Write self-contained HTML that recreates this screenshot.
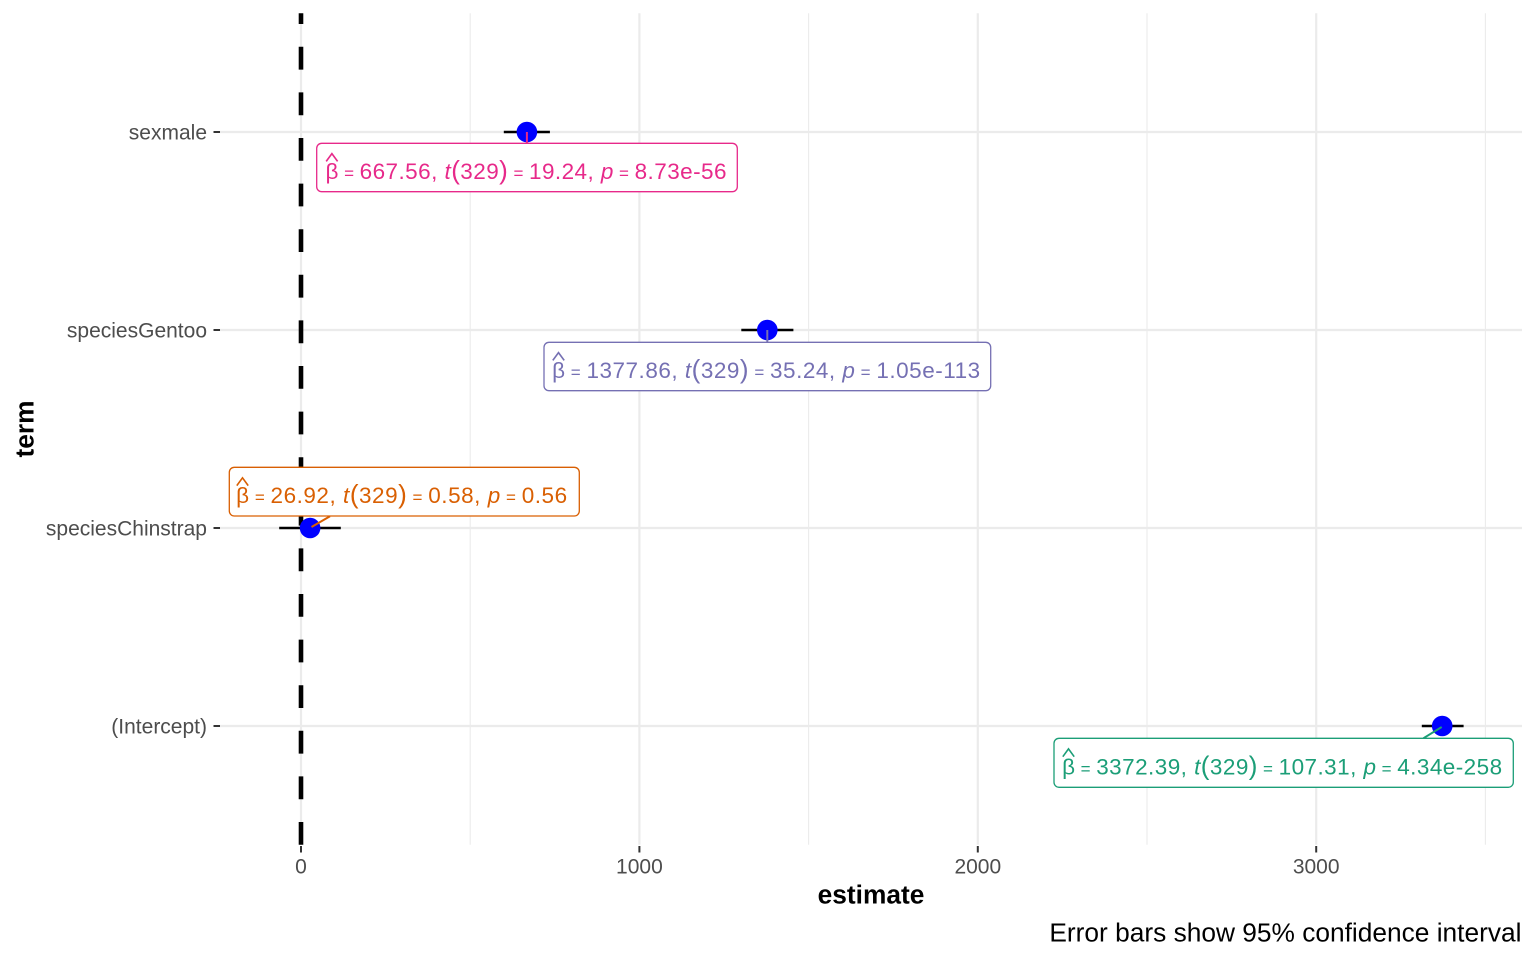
<!DOCTYPE html>
<html><head><meta charset="utf-8"><style>
html,body{margin:0;padding:0;background:#fff;}
svg{display:block;}
text{font-family:"Liberation Sans",Arial,sans-serif;}
</style></head><body>
<svg width="1536" height="960" viewBox="0 0 1536 960" xmlns="http://www.w3.org/2000/svg">
<rect width="1536" height="960" fill="#fff"/>
<!-- minor grid -->
<g stroke="#EBEBEB" stroke-width="1.1">
<line x1="470.2" y1="13.2" x2="470.2" y2="844.8"/>
<line x1="808.6" y1="13.2" x2="808.6" y2="844.8"/>
<line x1="1147" y1="13.2" x2="1147" y2="844.8"/>
<line x1="1485.4" y1="13.2" x2="1485.4" y2="844.8"/>
</g>
<!-- major grid -->
<g stroke="#EBEBEB" stroke-width="2.2">
<line x1="301" y1="13.2" x2="301" y2="844.8"/>
<line x1="639.4" y1="13.2" x2="639.4" y2="844.8"/>
<line x1="977.8" y1="13.2" x2="977.8" y2="844.8"/>
<line x1="1316.2" y1="13.2" x2="1316.2" y2="844.8"/>
<line x1="220" y1="132" x2="1522" y2="132"/>
<line x1="220" y1="330" x2="1522" y2="330"/>
<line x1="220" y1="528" x2="1522" y2="528"/>
<line x1="220" y1="726" x2="1522" y2="726"/>
</g>
<!-- dashed vline -->
<line x1="301" y1="844.8" x2="301" y2="13.2" stroke="#000" stroke-width="4.6" stroke-dasharray="22.8 22.8"/>
<!-- error bars -->
<g stroke="#000" stroke-width="2.6">
<line x1="503.8" y1="132" x2="549.9" y2="132"/>
<line x1="741.3" y1="330" x2="793.4" y2="330"/>
<line x1="279.2" y1="528" x2="340.8" y2="528"/>
<line x1="1421.8" y1="726" x2="1463.6" y2="726"/>
</g>
<!-- points -->
<g fill="#0000FF">
<circle cx="526.9" cy="132" r="10.3"/>
<circle cx="767.3" cy="330" r="10.3"/>
<circle cx="310.1" cy="528" r="10.3"/>
<circle cx="1442.2" cy="726" r="10.3"/>
</g>
<!-- segments -->
<line x1="526.9" y1="132" x2="526.9" y2="143.3" stroke="#E7298A" stroke-width="2"/>
<line x1="767.3" y1="330" x2="767.3" y2="342.3" stroke="#7570B3" stroke-width="2"/>
<line x1="311.5" y1="527" x2="330" y2="516.3" stroke="#D95F02" stroke-width="2"/>
<line x1="1441.7" y1="727" x2="1423.3" y2="738.3" stroke="#1B9E77" stroke-width="2"/>

<!-- label boxes -->
<rect x="316.7" y="143.3" width="420.6" height="48.4" rx="5" fill="#fff" stroke="#E7298A" stroke-width="1.3"/>
<rect x="544" y="342.3" width="446.7" height="48.4" rx="5" fill="#fff" stroke="#7570B3" stroke-width="1.3"/>
<rect x="229.3" y="467.3" width="350" height="48.7" rx="5" fill="#fff" stroke="#D95F02" stroke-width="1.3"/>
<rect x="1054" y="738.3" width="459.3" height="49" rx="5" fill="#fff" stroke="#1B9E77" stroke-width="1.3"/>

<!-- sexmale label -->
<g fill="#E7298A" font-size="22.5">
<polyline points="326.2,161.4 331.9,153.6 337.6,161.4" fill="none" stroke="#E7298A" stroke-width="1.6"/>
<text x="325.5" y="179" textLength="401" lengthAdjust="spacing">β<tspan font-size="17"> = </tspan>667.56, <tspan font-style="italic">t</tspan><tspan font-size="26">(</tspan>329<tspan font-size="26">)</tspan><tspan font-size="17"> = </tspan>19.24, <tspan font-style="italic">p</tspan><tspan font-size="17"> = </tspan>8.73e-56</text>
</g>
<!-- gentoo label -->
<g fill="#7570B3" font-size="22.5">
<polyline points="552.8,360.4 558.5,352.6 564.2,360.4" fill="none" stroke="#7570B3" stroke-width="1.6"/>
<text x="552.1" y="378" textLength="428" lengthAdjust="spacing">β<tspan font-size="17"> = </tspan>1377.86, <tspan font-style="italic">t</tspan><tspan font-size="26">(</tspan>329<tspan font-size="26">)</tspan><tspan font-size="17"> = </tspan>35.24, <tspan font-style="italic">p</tspan><tspan font-size="17"> = </tspan>1.05e-113</text>
</g>
<!-- chinstrap label -->
<g fill="#D95F02" font-size="22.5">
<polyline points="236.8,485.6 242.5,477.8 248.2,485.6" fill="none" stroke="#D95F02" stroke-width="1.6"/>
<text x="236.1" y="503.2" textLength="331" lengthAdjust="spacing">β<tspan font-size="17"> = </tspan>26.92, <tspan font-style="italic">t</tspan><tspan font-size="26">(</tspan>329<tspan font-size="26">)</tspan><tspan font-size="17"> = </tspan>0.58, <tspan font-style="italic">p</tspan><tspan font-size="17"> = </tspan>0.56</text>
</g>
<!-- intercept label -->
<g fill="#1B9E77" font-size="22.5">
<polyline points="1062.8,756.7 1068.5,748.9 1074.2,756.7" fill="none" stroke="#1B9E77" stroke-width="1.6"/>
<text x="1062.1" y="774.3" textLength="440" lengthAdjust="spacing">β<tspan font-size="17"> = </tspan>3372.39, <tspan font-style="italic">t</tspan><tspan font-size="26">(</tspan>329<tspan font-size="26">)</tspan><tspan font-size="17"> = </tspan>107.31, <tspan font-style="italic">p</tspan><tspan font-size="17"> = </tspan>4.34e-258</text>
</g>

<!-- axis ticks -->
<g stroke="#333" stroke-width="2">
<line x1="213.5" y1="132" x2="220" y2="132"/>
<line x1="213.5" y1="330" x2="220" y2="330"/>
<line x1="213.5" y1="528" x2="220" y2="528"/>
<line x1="213.5" y1="726" x2="220" y2="726"/>
<line x1="301" y1="846" x2="301" y2="852.5"/>
<line x1="639.4" y1="846" x2="639.4" y2="852.5"/>
<line x1="977.8" y1="846" x2="977.8" y2="852.5"/>
<line x1="1316.2" y1="846" x2="1316.2" y2="852.5"/>
</g>
<!-- y tick labels -->
<g fill="#4D4D4D" font-size="21" text-anchor="end">
<text x="207" y="139.5">sexmale</text>
<text x="207" y="337.5">speciesGentoo</text>
<text x="207" y="535.5">speciesChinstrap</text>
<text x="207" y="733.5">(Intercept)</text>
</g>
<!-- x tick labels -->
<g fill="#4D4D4D" font-size="21" text-anchor="middle">
<text x="301" y="873.3">0</text>
<text x="639.4" y="873.3">1000</text>
<text x="977.8" y="873.3">2000</text>
<text x="1316.2" y="873.3">3000</text>
</g>
<!-- axis titles -->
<text x="871" y="903.3" font-size="26.3" font-weight="bold" text-anchor="middle" fill="#000">estimate</text>
<text transform="translate(33.5,429) rotate(-90)" font-size="26.3" font-weight="bold" text-anchor="middle" fill="#000">term</text>
<!-- caption -->
<text x="1521.5" y="941.7" font-size="26.3" text-anchor="end" fill="#000">Error bars show 95% confidence interval</text>
</svg>
</body></html>
